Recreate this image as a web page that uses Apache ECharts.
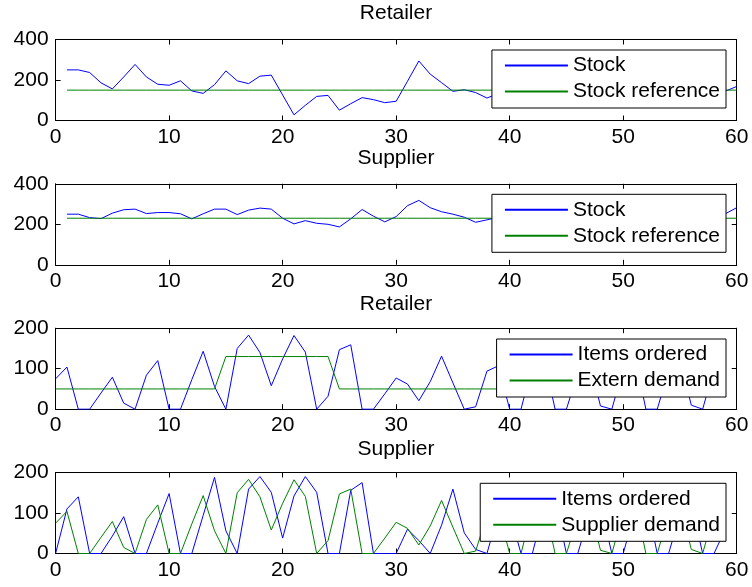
<!DOCTYPE html>
<html><head><meta charset="utf-8">
<script src="https://cdn.jsdelivr.net/npm/echarts@6/dist/echarts.min.js"></script>
<style>html,body{margin:0;padding:0;background:#fff}#c{width:752px;height:587px}</style>
</head><body><div id="c"></div>
<script>
// ---- data ----
// Panel 1 & 2: time steps 1..60
const retailerStock = [250,250,237,186,156,215,277,215,179,174,196,146,134,177,245,196,182,219,224,126,
  28,75,119,124,51,83,113,103,88,95,194,294,229,187,144,152,138,111,133,160,
  190,170,140,175,205,180,150,185,210,175,145,180,205,170,140,175,200,165,145,168];
const retailerStockRef = 150;
const supplierStock = [250,250,233,228,255,272,275,253,258,258,252,227,252,275,275,248,270,280,275,230,
  202,218,205,200,187,227,273,240,212,238,292,318,282,262,250,235,210,222,235,250,
  265,255,240,260,275,260,245,265,280,260,245,265,275,255,240,260,270,255,252,282];
const supplierStockRef = 230;
// Panel 3 & 4: time steps 0..59
const retailerOrders = [75,104,0,0,40,79,15,0,84,120,0,0,73,143,56,0,150,183,140,58,
  124,182,141,0,32,147,159,0,0,38,77,62,21,68,131,65,0,6,94,107,
  0,0,110,130,0,0,90,120,8,0,100,135,0,0,95,125,10,0,100,120];
const externDemand = [50,50,50,50,50,50,50,50,50,50,50,50,50,50,50,130,130,130,130,130,
  130,130,130,130,130,50,50,50,50,50,50,50,50,50,50,50,50,50,50,50,
  50,50,50,50,50,50,50,50,50,50,50,50,50,50,50,50,50,50,50,50];
const supplierOrders = [0,110,140,0,0,43,91,0,0,75,148,0,0,94,188,56,0,159,190,151,
  38,142,190,151,0,0,156,175,0,0,0,60,32,0,70,159,51,10,0,100,
  100,0,0,110,130,0,0,95,120,0,0,100,135,0,0,95,125,0,0,60];
const supplierDemand = retailerOrders;
const xTicks = [0,10,20,30,40,50,60];

const panelTitles = ['Retailer','Supplier','Retailer','Supplier'];
const legendNames = [['Stock','Stock reference'],['Stock','Stock reference'],
  ['Items ordered','Extern demand'],['Items ordered','Supplier demand']];

// ---- build ----
const pairs = (arr, start) => arr.map((v,i)=>[i+start, v]);
const constSeries = (v, start, end) => { const a=[]; for(let x=start;x<=end;x++) a.push([x,v]); return a; };

const FONT = '"Liberation Sans", Arial, Helvetica, sans-serif';
const FS = 21;
const BLUE = '#0000ff', GREEN = '#008000';
const tops = [39.5, 183.8, 328.2, 472.5];
const H = 81;
const yMax = [400,400,200,200];
const yInt = [200,200,100,100];
const legendTops = [50, 194.3, 339, 483.3];

const grid = tops.map(t=>({left:55.6, right:15.3, top:t, height:H, show:false}));
const xAxis = [], yAxis = [];
tops.forEach((t,i)=>{
  const base = {gridIndex:i, type:'value', min:xTicks[0], max:xTicks[xTicks.length-1], interval:10,
    axisLine:{show:true,onZero:false,lineStyle:{color:'#000',width:1}},
    axisTick:{show:true,inside:true,length:5,lineStyle:{color:'#000',width:1}},
    splitLine:{show:false}};
  xAxis.push(Object.assign({}, base, {position:'bottom',
    axisLabel:{show:true,color:'#000',fontSize:FS,fontFamily:FONT,margin:6}}));
  xAxis.push(Object.assign({}, base, {position:'top', axisLabel:{show:false}}));
  const ybase = {gridIndex:i, type:'value', min:0, max:yMax[i], interval:yInt[i],
    axisLine:{show:true,onZero:false,lineStyle:{color:'#000',width:1}},
    axisTick:{show:true,inside:true,length:5,lineStyle:{color:'#000',width:1}},
    splitLine:{show:false}};
  yAxis.push(Object.assign({}, ybase, {position:'left',
    axisLabel:{show:true,color:'#000',fontSize:FS,fontFamily:FONT,margin:7}}));
  yAxis.push(Object.assign({}, ybase, {position:'right', axisLabel:{show:false}}));
});

const mk = (name, data, color, i) => ({type:'line', name, data, xAxisIndex:2*i, yAxisIndex:2*i,
  symbol:'none', lineStyle:{color, width:1}, itemStyle:{color}, z:2});
const series = [
  mk('Stock', pairs(retailerStock,1), BLUE, 0),
  mk('Stock reference', constSeries(retailerStockRef,1,60), GREEN, 0),
  mk('Stock', pairs(supplierStock,1), BLUE, 1),
  mk('Stock reference', constSeries(supplierStockRef,1,60), GREEN, 1),
  mk('Items ordered', pairs(retailerOrders,0), BLUE, 2),
  mk('Extern demand', pairs(externDemand,0), GREEN, 2),
  mk('Items ordered', pairs(supplierOrders,0), BLUE, 3),
  mk('Supplier demand', pairs(supplierDemand,0), GREEN, 3)
];

const legend = legendNames.map((names,i)=>({
  data:names,
  orient:'vertical', right:26, top:legendTops[i],
  backgroundColor:'#fff', borderColor:'#000', borderWidth:1, borderRadius:0,
  padding:[5,6,6,12], itemWidth:63, itemHeight:14, itemGap:5, selectedMode:false,
  itemStyle:{opacity:0},
  textStyle:{fontSize:FS, fontFamily:FONT, color:'#000', lineHeight:21}, z:10
}));

const titleY = [13, 158, 304, 449];
const graphic = panelTitles.map((t,i)=>({type:'text', x:396, y:titleY[i],
  style:{text:t, font:FS+'px '+FONT, fill:'#000', textAlign:'center', textVerticalAlign:'middle', align:'center', verticalAlign:'middle'}}));

const chart = echarts.init(document.getElementById('c'), null, {renderer:'canvas'});
chart.setOption({animation:false, backgroundColor:'#fff', grid, xAxis, yAxis, series, legend, graphic});
</script></body></html>
